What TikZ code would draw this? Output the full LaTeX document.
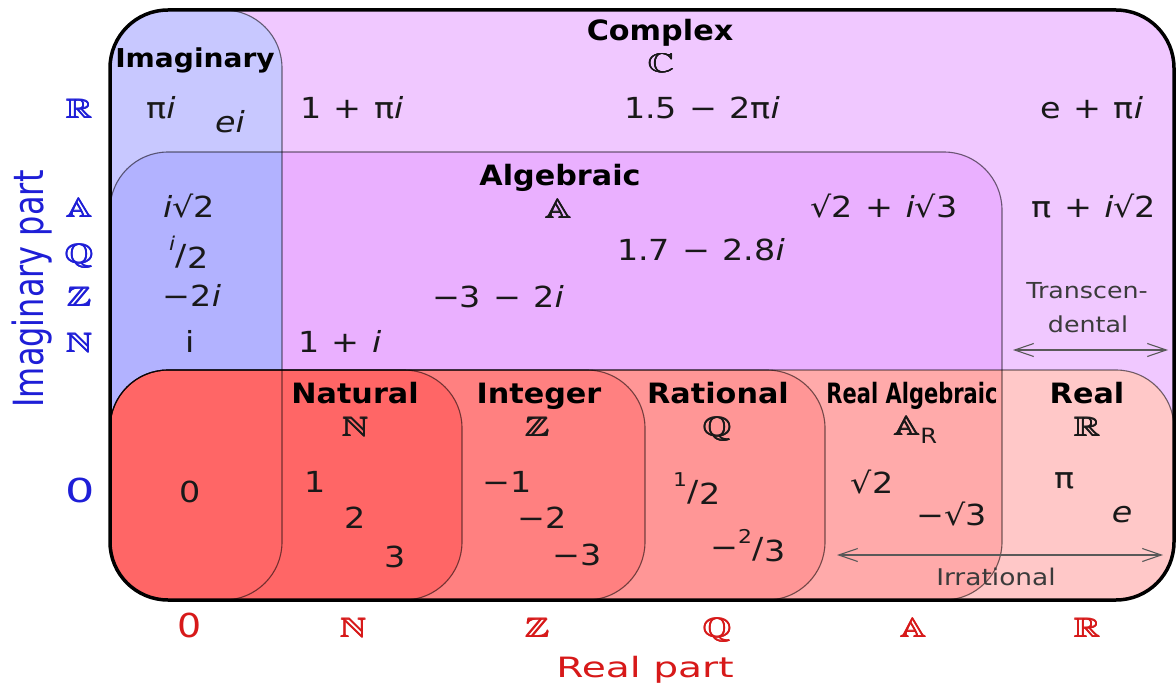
\documentclass[tikz,border=0pt]{standalone}
\usepackage{fontspec}
\usepackage{amssymb}
\usepackage{graphicx}
\setmainfont{DejaVu Sans}
\newfontfamily\numf{DejaVu Sans}[FakeStretch=1.15]
\newfontfamily\axf{DejaVu Sans}[FakeStretch=1.4]
\newfontfamily\hdf{DejaVu Sans}[FakeStretch=1.08]
\newfontfamily\cdf{DejaVu Sans}[FakeStretch=0.75]
\usetikzlibrary{arrows.meta}
\definecolor{cComplex}{RGB}{240,200,255}
\definecolor{cImag}{RGB}{200,200,255}
\definecolor{cAlg}{RGB}{234,176,255}
\definecolor{cImAlg}{RGB}{178,178,255}
\definecolor{cReal}{RGB}{255,200,200}
\definecolor{cRAlg}{RGB}{255,170,170}
\definecolor{cRat}{RGB}{255,150,150}
\definecolor{cInt}{RGB}{255,128,128}
\definecolor{cNat}{RGB}{255,102,102}
\definecolor{axblue}{RGB}{30,30,215}
\definecolor{axred}{RGB}{215,25,25}
\definecolor{txt}{RGB}{25,25,25}
\newcommand\bbx[1]{\scalebox{3.7}[2.7]{\fontsize{10}{10}\selectfont$\mathbb{#1}$}}
\newcommand\bb[1]{\rlap{\bbx{#1}}\rlap{\kern0.7pt\bbx{#1}}\rlap{\raisebox{0.5pt}{\kern0.35pt\bbx{#1}}}\kern0.7pt\bbx{#1}}
\newcommand\ii{\textit{i}}
\newcommand\op[1]{\hspace{0.42em}#1\hspace{0.42em}}
\newcommand\fr[2]{\raisebox{0.45em}{\fontsize{19}{19}\selectfont #1}\kern0.02em\raisebox{-0.06em}{/}\kern0.02em\raisebox{-0.15em}{#2}}
\begin{document}
\begin{tikzpicture}[x=1pt,y=-1pt,
  rc/.style={rounded corners=58pt},
  edge/.style={draw=black, draw opacity=0.55, line width=1.1pt, rc},
  hd/.style={font=\hdf\bfseries\fontsize{28}{28}\selectfont, text=black, anchor=base, inner sep=0pt},
  cond/.style={font=\cdf\bfseries\fontsize{28}{28}\selectfont, text=black, anchor=base, inner sep=0pt},
  num/.style={font=\numf\fontsize{29}{29}\selectfont, text=txt, anchor=base, inner sep=0pt},
  small/.style={font=\numf\fontsize{22}{22}\selectfont, text=txt!85, anchor=base, inner sep=0pt},
  bbn/.style={text=txt, anchor=base, inner sep=0pt},
  blue/.style={text=axblue, anchor=base, inner sep=0pt},
  red/.style={text=axred, anchor=base, inner sep=0pt},
  dbl/.style={draw=black!65, line width=1.1pt, {Straight Barb[length=19pt,width=13pt]}-{Straight Barb[length=19pt,width=13pt]}}]
\useasboundingbox (0,0) rectangle (1176,685);
\fill[white] (0,0) rectangle (1176,685);
% regions
\begin{scope}
  \clip[rc] (110,10) rectangle (1174,600);
  \fill[cComplex] (110,10) rectangle (1174,600);
  \fill[cImag,rc] (110,10) rectangle (282,600);
  \fill[cAlg,rc] (110,152) rectangle (1002,600);
  \begin{scope}
    \clip[rc] (110,10) rectangle (282,600);
    \fill[cImAlg,rc] (110,152) rectangle (1002,600);
  \end{scope}
  \fill[cReal,rc] (110,370) rectangle (1174,600);
  \begin{scope}
    \clip[rc] (110,152) rectangle (1002,600);
    \fill[cRAlg,rc] (110,370) rectangle (1174,600);
  \end{scope}
  \fill[cRat,rc] (110,370) rectangle (825,600);
  \fill[cInt,rc] (110,370) rectangle (645,600);
  \fill[cNat,rc] (110,370) rectangle (462,600);
  \draw[edge] (110,10) rectangle (282,600);
  \draw[edge] (110,152) rectangle (1002,600);
  \draw[edge] (110,370) rectangle (1174,600);
  \draw[edge] (110,370) rectangle (825,600);
  \draw[edge] (110,370) rectangle (645,600);
  \draw[edge] (110,370) rectangle (462,600);
\end{scope}
\draw[line width=3.5pt, rc] (110,10) rectangle (1174,600);
% headings
\node[hd] (complex) at (660,41) {Complex};
\node[bbn] (C) at (661,73) {\bb{C}};
\node[hd, font=\hdf\bfseries\fontsize{26}{26}\selectfont] (imag) at (195,67) {Imaginary};
\node[hd] (alg) at (560,185) {Algebraic};
\node[bbn] (A) at (558,218) {\bb{A}};
\node[hd] (nat) at (355,403) {Natural};
\node[bbn] (N) at (355,436) {\bb{N}};
\node[hd] (int) at (539,403) {Integer};
\node[bbn] (Z) at (537,436) {\bb{Z}};
\node[hd] (rat) at (718,403) {Rational};
\node[bbn] (Q) at (717,436) {\bb{Q}};
\node[cond] (ralg) at (912,403) {Real Algebraic};
\node[bbn] (AR) at (915,435) {\bb{A}\raisebox{-8pt}{\numf\fontsize{21}{21}\selectfont R}};
\node[hd] (real) at (1087,403) {Real};
\node[bbn] (R) at (1087,436) {\bb{R}};
% complex row
\node[num] (pii) at (161,118) {π\ii};
\node[num] (ei) at (230,132) {\textit{ei}};
\node[num] (c1) at (352,118) {1\op{+}π\ii};
\node[num] (c2) at (702,118) {1.5\op{−}2π\ii};
\node[num] (c3) at (1092,118) {e\op{+}π\ii};
% algebraic rows
\node[num] (isq2) at (189,217) {\ii√2};
\node[num] (s2is3) at (884,217) {√2\op{+}\ii√3};
\node[num] (piis2) at (1094,217) {π\op{+}\ii√2};
\node[num] (ihalf) at (189,264) {\fr{\ii}{2}};
\node[num] (a17) at (701,260) {1.7\op{−}2.8\ii};
\node[num] (m2i) at (192,306) {−2\ii};
\node[num] (m3m2i) at (498,307) {−3\op{−}2\ii};
\node[num] (iup) at (190,352) {i};
\node[num] (onei) at (340,352) {1\op{+}\ii};
\node[small] (tr1) at (1087,298) {Transcen-};
\node[small] (tr2) at (1088,332) {dental};
\coordinate (tL) at (1013,350);
\coordinate (tR) at (1168,350);
\draw[dbl] (tL) -- (tR);
% real region
\node[num] (zero) at (190,502) {0};
\node[num] (one) at (315,492) {1};
\node[num] (two) at (355,528) {2};
\node[num] (three) at (395,567) {3};
\node[num] (m1) at (507,492) {−1};
\node[num] (m2) at (542,528) {−2};
\node[num] (m3) at (577,565) {−3};
\node[num] (half) at (697,500) {\fr{1}{2}};
\node[num] (m23) at (748,557) {−\fr{2}{3}};
\node[num] (sq2) at (872,493) {√2};
\node[num] (msq3) at (952,525) {−√3};
\node[num] (pi) at (1065,488) {π};
\node[num] (e) at (1122,522) {\textit{e}};
\coordinate (iL) at (837,555);
\coordinate (iR) at (1163,555);
\draw[dbl] (iL) -- (iR);
\node[small, font=\numf\fontsize{23}{23}\selectfont] (irr) at (996,585) {Irrational};
% imaginary axis
\node[blue] (bR) at (79,118) {\bb{R}};
\node[blue] (bA) at (79,217) {\bb{A}};
\node[blue] (bQ) at (79,263) {\bb{Q}};
\node[blue] (bZ) at (79,306) {\bb{Z}};
\node[blue] (bN) at (79,352) {\bb{N}};
\node[blue, font=\axf\fontsize{33}{33}\selectfont] (b0) at (80,502) {0};
\node[blue, rotate=90, font=\fontsize{32}{32}\selectfont] (imagpart) at (43,289) {\scalebox{1}[1.3]{Imaginary part}};
% real axis
\node[red, font=\numf\fontsize{33}{33}\selectfont] (r0) at (190,637) {0};
\node[red] (rN) at (353,637) {\bb{N}};
\node[red] (rZ) at (537,637) {\bb{Z}};
\node[red] (rQ) at (717,637) {\bb{Q}};
\node[red] (rA) at (913,637) {\bb{A}};
\node[red] (rR) at (1087,637) {\bb{R}};
\node[red, font=\axf\fontsize{28}{28}\selectfont] (realpart) at (645,677) {Real part};
\end{tikzpicture}
\end{document}
